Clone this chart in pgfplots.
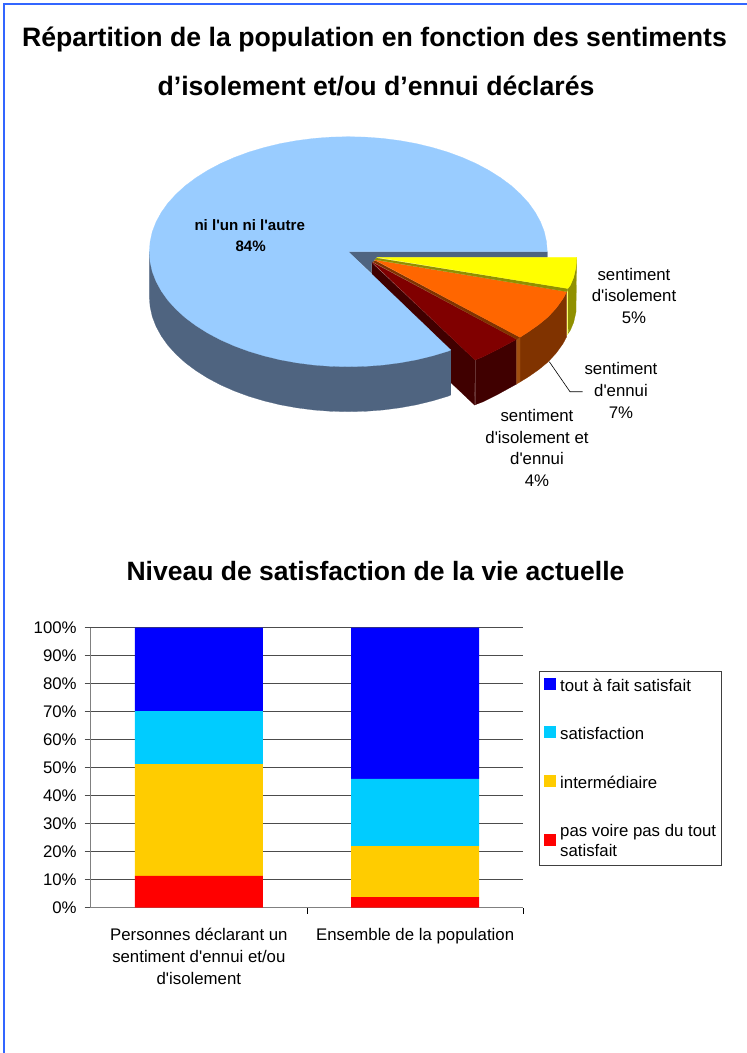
\documentclass[border=0pt]{standalone}
\usepackage{fontspec}
\usepackage{pgfplots}
\pgfplotsset{compat=1.18}
\setmainfont{Liberation Sans}
% no tex-text mapping here, so that ' stays straight as in the labels of the pie
\newfontfamily\plainfont{Liberation Sans}
\newcommand{\lab}{\plainfont\fontsize{16.8}{21.7}\selectfont}

\definecolor{frameblue}{HTML}{3366FF}
\definecolor{pietop}{HTML}{99CCFF}
\definecolor{piewall}{HTML}{4F6480}
\definecolor{yellowtop}{HTML}{FFFF00}
\definecolor{olivewall}{HTML}{909000}
\definecolor{orangetop}{HTML}{FF6600}
\definecolor{orangewall}{HTML}{803300}
\definecolor{orangeedge}{HTML}{A04E10}
\definecolor{maroontop}{HTML}{800000}
\definecolor{maroonwall}{HTML}{400000}
\definecolor{barred}{HTML}{FF0000}
\definecolor{barblue}{HTML}{0000FF}
\definecolor{barcyan}{HTML}{00CCFF}
\definecolor{baryellow}{HTML}{FFCC00}

\begin{document}
\begin{tikzpicture}
  \path[use as bounding box] (0pt,0pt) rectangle (747pt,1053pt);
  % page in pixels: frame, titles and the 3D pie
  \begin{axis}[
      at={(0pt,0pt)}, anchor=south west,
      scale only axis, width=747pt, height=1053pt,
      xmin=0, xmax=747, ymin=0, ymax=1053,
      y dir=reverse,
      axis lines=none,
    ]
    % frame
    \addplot[frameblue, line width=1.8pt] coordinates {(3.7,1053) (3.7,4.2) (747,4.2)};

    % notch wall of the big slice
    \addplot[fill=piewall, draw=piewall, line width=0.2pt] coordinates {(348.3,251.7) (547.3,251.7) (547.3,257.3) (376.7,257.3) (371.7,263.3) (371.7,273.3)} --cycle;

    % isolement et ennui 4%
    \addplot[fill=maroonwall, draw=maroonwall, line width=0.2pt] coordinates {(372,263) (475,360) (474.5,405) (372,308)} --cycle;
    \addplot[fill=maroonwall, draw=maroonwall, line width=0.2pt] coordinates {(475,360) (483.3,356.7) (496.7,350) (516.7,339.3) (516.7,384) (496.7,395) (483.3,401.7) (474.5,405)} --cycle;
    \addplot[color=maroonwall!80!white, line width=0.4pt] coordinates {(474.8,360) (474.8,405)};
    \addplot[fill=maroontop, draw=maroontop, line width=0.2pt] coordinates {(372.3,262.3) (516.7,339.3) (496.7,350) (483.3,356.7) (475,360)} --cycle;

    % ni l'un ni l'autre 84%: outer wall, then top
    \addplot[fill=piewall, draw=piewall, line width=0.2pt] coordinates {
      (149.3,251.7) (149.3,296.7) (150.1,306.7) (152.3,316.7) (156.1,326.5) (161.3,336)
      (167.9,345.3) (176,354.2) (185.3,362.7) (195.9,370.6) (207.6,378) (220.4,384.8)
      (234.2,390.9) (248.8,396.3) (264.2,400.9) (280.2,404.8) (296.8,407.8) (313.8,410)
      (331,411.3) (348.3,411.7) (365.6,411.3) (382.8,410) (399.8,407.8) (416.4,404.8)
      (432.4,400.9) (447.8,396.3) (450.8,395) (450.8,350)} --cycle;
    \addplot[fill=pietop, draw=pietop, line width=0.2pt] coordinates {
      (348.3,251.7) (547.3,251.7) (546.5,241.7) (544.3,231.7) (540.5,221.9) (535.3,212.4)
      (528.7,203.1) (520.6,194.2) (511.3,185.7) (500.7,177.8) (489,170.4) (476.2,163.6)
      (462.4,157.5) (447.8,152.1) (432.4,147.5) (416.4,143.6) (399.8,140.6) (382.8,138.4)
      (365.6,137.1) (348.3,136.7) (331,137.1) (313.8,138.4) (296.8,140.6) (280.2,143.6)
      (264.2,147.5) (248.8,152.1) (234.2,157.5) (220.4,163.6) (207.6,170.4) (195.9,177.8)
      (185.3,185.7) (176,194.2) (167.9,203.1) (161.3,212.4) (156.1,221.9) (152.3,231.7)
      (150.1,241.7) (149.3,251.7) (150.1,261.7) (152.3,271.7) (156.1,281.5) (161.3,291)
      (167.9,300.3) (176,309.2) (185.3,317.7) (195.9,325.6) (207.6,333) (220.4,339.8)
      (234.2,345.9) (248.8,351.3) (264.2,355.9) (280.2,359.8) (296.8,362.8) (313.8,365)
      (331,366.3) (348.3,366.7) (365.6,366.3) (382.8,365) (399.8,362.8) (416.4,359.8)
      (432.4,355.9) (447.8,351.3) (450.8,350)} --cycle;

    % sentiment d'ennui 7%
    \addplot[fill=orangewall, draw=orangewall, line width=0.2pt] coordinates {
      (566.7,291.7) (562.9,298.8) (556.3,308) (548.2,316.8) (538.8,324.6) (528.2,332) (520,337.3)
      (520,382) (528.2,377) (538.8,369.6) (548.2,361.8) (556.3,353) (562.9,343.8) (566.7,336.7)} --cycle;
    \addplot[fill=orangeedge, draw=orangeedge, line width=0.2pt] coordinates {(516.7,339.3) (520,337.3) (520,382) (516.7,384)} --cycle;
    \addplot[fill=orangewall, draw=orangewall, line width=0.2pt] coordinates {(375,260.5) (520,337.3) (516.7,339.3) (373,262)} --cycle;
    \addplot[fill=orangetop, draw=orangetop, line width=0.2pt] coordinates {
      (375,260) (566.7,291.7) (562.9,298.8) (556.3,308) (548.2,316.8) (538.8,324.6) (528.2,332) (520,337.3)} --cycle;

    % sentiment d'isolement 5%
    \addplot[fill=olivewall, draw=olivewall, line width=0.2pt] coordinates {
      (576.7,257.3) (576,267) (573.7,277.3) (570.3,285.4) (567.7,289)
      (568.3,333.3) (570.3,330.4) (573.7,322.3) (576,312)} --cycle;
    \addplot[color=yellowtop!60!white, line width=0.8pt] coordinates {(567.3,291) (567.3,335)};
    \addplot[fill=olivewall, draw=olivewall, line width=0.2pt] coordinates {(376.7,258) (567.7,288.5) (567,291.7) (375,259.7)} --cycle;
    \addplot[fill=yellowtop, draw=yellowtop, line width=0.2pt] coordinates {
      (376.7,257.3) (576.7,257.3) (576,267) (573.7,277.3) (570.3,285.4) (567.7,288.5)} --cycle;

    % leader line
    \addplot[black, line width=0.6pt] coordinates {(549.3,361.7) (570,391.7) (582.7,391.7)};

    % titles
    \node[anchor=base, font=\bfseries\fontsize{26.65}{30}\selectfont] at (axis cs:374.5,46.5) {Répartition de la population en fonction des sentiments};
    \node[anchor=base, font=\bfseries\fontsize{26.65}{30}\selectfont] at (axis cs:376,95) {d’isolement et/ou d’ennui déclarés};
    \node[anchor=base, font=\bfseries\fontsize{26.5}{30}\selectfont] at (axis cs:375.5,580) {Niveau de satisfaction de la vie actuelle};

    % pie labels
    \node[anchor=base, font=\plainfont\bfseries\fontsize{15.1}{20}\selectfont] at (axis cs:249.7,230) {ni l'un ni l'autre};
    \node[anchor=base, font=\plainfont\bfseries\fontsize{15.1}{20}\selectfont] at (axis cs:250.7,251) {84\%};
    \node[anchor=base, font=\lab] at (axis cs:634,280) {sentiment};
    \node[anchor=base, font=\lab] at (axis cs:634,301) {d'isolement};
    \node[anchor=base, font=\lab] at (axis cs:634,323) {5\%};
    \node[anchor=base, font=\lab] at (axis cs:621,374) {sentiment};
    \node[anchor=base, font=\lab] at (axis cs:621,396) {d'ennui};
    \node[anchor=base, font=\lab] at (axis cs:621,418) {7\%};
    \node[anchor=base, font=\lab] at (axis cs:537,421) {sentiment};
    \node[anchor=base, font=\lab] at (axis cs:537,443) {d'isolement et};
    \node[anchor=base, font=\lab] at (axis cs:537,464) {d'ennui};
    \node[anchor=base, font=\lab] at (axis cs:537,486) {4\%};
  \end{axis}

  % stacked bars
  \begin{axis}[
      at={(90.7pt,145.3pt)}, anchor=south west,
      scale only axis, width=432.6pt, height=280pt,
      ybar stacked, bar width=128pt,
      xmin=0.5, xmax=2.5, ymin=0, ymax=100,
      axis lines=left,
      axis line style={-, draw=black!50, line width=1.5pt},
      xtick={1,2},
      xticklabels={{Personnes déclarant un\\sentiment d'ennui et/ou\\d'isolement},{Ensemble de la population}},
      minor xtick={1.5,2.5},
      ytick={0,10,...,100},
      yticklabel={\pgfmathprintnumber{\tick}\%},
      /pgf/number format/assume math mode=true,
      tick align=outside,
      major tick length=6pt, minor tick length=6pt,
      major x tick style={draw=none},
      minor x tick style={draw=black, line width=0.7pt},
      ytick style={draw=black!70, line width=1pt},
      ymajorgrids,
      grid style={draw=black!70, line width=1pt},
      tick label style={font=\lab},
      x tick label style={align=center, yshift=-11pt},
      y tick label style={xshift=-4.5pt},
      reverse legend,
      legend cell align=left,
      legend image code/.code={\fill[#1,draw=none] (1.3pt,-4pt) rectangle (13.3pt,8pt);\path (17.3pt,0pt);},
      legend style={
        at={(1.0356,0.8464)}, anchor=north west,
        draw=black!75, line width=1pt,
        font=\plainfont\fontsize{16.8}{20.3}\selectfont,
        nodes={align=left, inner xsep=0pt},
        row sep=30.8pt, inner xsep=5pt, inner ysep=5.5pt,
      },
    ]
    \addplot[fill=barred, draw=none] coordinates {(1,11.4) (2,3.8)};
    \addplot[fill=baryellow, draw=none] coordinates {(1,39.9) (2,18.2)};
    \addplot[fill=barcyan, draw=none] coordinates {(1,18.9) (2,24)};
    \addplot[fill=barblue, draw=none] coordinates {(1,29.8) (2,54)};
    \legend{{pas voire pas du tout\\satisfait},intermédiaire,satisfaction,tout à fait satisfait}
  \end{axis}
\end{tikzpicture}
\end{document}
